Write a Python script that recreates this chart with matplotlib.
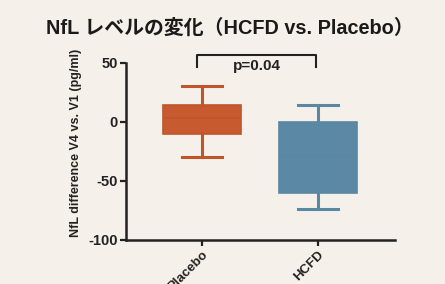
import matplotlib
matplotlib.use("Agg")
import matplotlib.pyplot as plt

groups = ["Placebo", "HCFD"]
q1 = [-10, -60]
median = [3, -29]
q3 = [14, 0]
whislo = [-30, -74]
whishi = [30, 14]
p_text = "p=0.04"

fill_colors = ["#c85a30", "#5b88a4"]
line_colors = ["#c0552c", "#5a87a2"]
bg = "#f5f1ea"

plt.rcParams["font.family"] = ["Liberation Sans", "Noto Sans CJK JP"]
plt.rcParams["axes.unicode_minus"] = False

fig = plt.figure(figsize=(4.45, 2.84), dpi=100, facecolor=bg)
ax = fig.add_axes([0.283, 0.155, 0.605, 0.624])
ax.set_facecolor(bg)

stats = [dict(med=m, q1=a, q3=b, whislo=lo, whishi=hi, label=g)
         for g, a, m, b, lo, hi in zip(groups, q1, median, q3, whislo, whishi)]
bp = ax.bxp(stats, positions=range(len(groups)), widths=0.67, showfliers=False,
            patch_artist=True, showcaps=True)
for i, box in enumerate(bp["boxes"]):
    box.set_facecolor(fill_colors[i])
    box.set_edgecolor(line_colors[i])
    box.set_linewidth(1.2)
    bp["medians"][i].set_color(line_colors[i])
    bp["medians"][i].set_linewidth(1.2)
    for w in bp["whiskers"][2 * i:2 * i + 2]:
        w.set_color(line_colors[i])
        w.set_linewidth(2.2)
    for c in bp["caps"][2 * i:2 * i + 2]:
        c.set_color(line_colors[i])
        c.set_linewidth(2.2)
        x = c.get_xdata()
        mid = (x[0] + x[1]) / 2
        c.set_xdata([mid - 0.17, mid + 0.17])

ax.set_xlim(-0.655, 1.665)
ax.set_ylim(-100, 50)
ax.set_yticks([-100, -50, 0, 50])
for s in ["top", "right"]:
    ax.spines[s].set_visible(False)
for s in ["left", "bottom"]:
    ax.spines[s].set_linewidth(1.8)
    ax.spines[s].set_color("#222222")
ax.tick_params(width=1.6, length=4, color="#222222", labelsize=10.5, pad=2)
ax.set_xticks(range(len(groups)))
ax.set_xticklabels(groups, rotation=45, ha="right", rotation_mode="anchor",
                   fontweight="bold", color="#222222", fontsize=9.5)
for t in ax.get_yticklabels():
    t.set_fontweight("bold")
    t.set_color("#222222")
ax.set_ylabel("NfL difference V4 vs. V1 (pg/ml)", fontsize=9, fontweight="bold",
              color="#222222")
ax.yaxis.set_label_coords(-0.164, 0.55)

# significance bracket
ax.plot([-0.04, -0.04, 0.98, 0.98], [46, 56.5, 56.5, 46], color="#222222",
        lw=1.5, clip_on=False)
ax.text(0.47, 53.5, p_text, ha="center", va="top", fontsize=11, fontweight="bold",
        color="#222222")

fig.text(0.517, 0.9, "NfL レベルの変化（HCFD vs. Placebo）", ha="center", va="center",
         fontsize=14.3, fontweight="bold", color="#1a1a1a")

fig.savefig("out.png", dpi=100, facecolor=bg)
